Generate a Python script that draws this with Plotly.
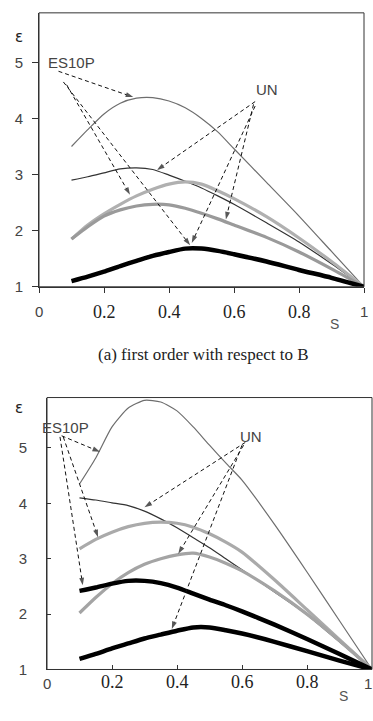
import plotly.graph_objects as go

# ---------------- data ----------------
s_vals = [0.1, 0.15, 0.2, 0.25, 0.3, 0.35, 0.4, 0.45, 0.5, 0.55, 0.6, 0.7, 0.8, 0.9, 1.0]

# (a) first order with respect to B
a_es10p_thin = [3.5, 3.8, 4.08, 4.27, 4.36, 4.37, 4.31, 4.19, 4.0, 3.76, 3.46, 2.86, 2.26, 1.63, 1.0]
a_un_thin    = [2.9, 2.96, 3.03, 3.1, 3.12, 3.09, 2.99, 2.88, 2.76, 2.62, 2.47, 2.14, 1.8, 1.41, 1.0]
a_es10p_gray = [1.85, 2.1, 2.3, 2.47, 2.62, 2.74, 2.83, 2.87, 2.83, 2.71, 2.57, 2.25, 1.87, 1.45, 1.0]
a_un_gray    = [1.85, 2.07, 2.26, 2.37, 2.44, 2.47, 2.46, 2.4, 2.31, 2.21, 2.1, 1.88, 1.62, 1.32, 1.0]
a_black      = [1.1, 1.18, 1.27, 1.37, 1.46, 1.55, 1.62, 1.68, 1.68, 1.64, 1.58, 1.45, 1.3, 1.16, 1.0]

# second chart
b_es10p_thin  = [4.35, 4.82, 5.38, 5.72, 5.86, 5.83, 5.67, 5.38, 5.05, 4.73, 4.42, 3.62, 2.76, 1.88, 1.0]
b_un_thin     = [4.1, 4.06, 4.01, 3.96, 3.86, 3.72, 3.56, 3.38, 3.2, 3.0, 2.8, 2.4, 1.99, 1.5, 1.0]
b_es10p_gray  = [3.18, 3.35, 3.48, 3.58, 3.64, 3.66, 3.64, 3.57, 3.45, 3.3, 3.12, 2.62, 2.08, 1.54, 1.0]
b_un_gray     = [2.02, 2.3, 2.55, 2.75, 2.9, 3.0, 3.07, 3.1, 3.03, 2.92, 2.78, 2.42, 2.0, 1.52, 1.0]
b_es10p_black = [2.42, 2.48, 2.55, 2.6, 2.6, 2.56, 2.48, 2.37, 2.26, 2.16, 2.05, 1.81, 1.55, 1.28, 1.0]
b_un_black    = [1.19, 1.28, 1.38, 1.47, 1.56, 1.63, 1.7, 1.76, 1.76, 1.71, 1.65, 1.5, 1.33, 1.16, 1.0]

x_ticks = [0, 0.2, 0.4, 0.6, 0.8, 1]
x_tick_labels = ["0", "0.2", "0.4", "0.6", "0.8", "1"]
y_ticks = [1, 2, 3, 4, 5]
y_tick_labels = ["1", "2", "3", "4", "5"]

# label anchors (data coords) and arrow (start -> end) pairs
a_labels = [("ES10P", 0.10, 5.0), ("UN", 0.70, 4.52)]
a_arrows = [((0.06, 4.84), (0.29, 4.38)),
            ((0.085, 4.6), (0.28, 2.64)),
            ((0.075, 4.65), (0.465, 1.74)),
            ((0.665, 4.3), (0.363, 3.08)),
            ((0.66, 4.25), (0.575, 2.2)),
            ((0.665, 4.22), (0.47, 1.78))]
b_labels = [("ES10P", 0.058, 5.37), ("UN", 0.628, 5.2)]
b_arrows = [((0.045, 5.22), (0.163, 4.93)),
            ((0.05, 5.2), (0.157, 3.39)),
            ((0.04, 5.2), (0.11, 2.52)),
            ((0.61, 5.1), (0.30, 3.93)),
            ((0.605, 5.05), (0.404, 3.09)),
            ((0.60, 5.05), (0.384, 1.73))]

caption = "(a) first order with respect to B"

# ---------------- figure ----------------
W, H = 373, 721
fig = go.Figure()

def px_x(p):
    return p / W

def px_y(p):
    return 1 - p / H

styles = [("#6e6e6e", 1.2), ("#333333", 1.2), ("#b0b0b0", 3.2), ("#9a9a9a", 3.2), ("#000000", 4.5)]
top_series = [a_es10p_thin, a_un_thin, a_es10p_gray, a_un_gray, a_black]
for ys, (c, w) in zip(top_series, styles):
    fig.add_trace(go.Scatter(x=s_vals, y=ys, mode="lines", line=dict(color=c, width=w, shape="spline", smoothing=0.6),
                             xaxis="x", yaxis="y", showlegend=False, hoverinfo="skip"))

styles_b = [("#6e6e6e", 1.2), ("#333333", 1.2), ("#aaaaaa", 3.2), ("#a4a4a4", 3.2), ("#000000", 4.5), ("#000000", 4.5)]
bot_series = [b_es10p_thin, b_un_thin, b_es10p_gray, b_un_gray, b_es10p_black, b_un_black]
for ys, (c, w) in zip(bot_series, styles_b):
    fig.add_trace(go.Scatter(x=s_vals, y=ys, mode="lines", line=dict(color=c, width=w, shape="spline", smoothing=0.6),
                             xaxis="x2", yaxis="y2", showlegend=False, hoverinfo="skip"))

def add_arrows(arrows, xa, ya):
    for (x0, y0), (x1, y1) in arrows:
        fig.add_trace(go.Scatter(x=[x0, x1], y=[y0, y1], mode="lines+markers",
                                 line=dict(color="#111111", width=1, dash="4px,3px"),
                                 marker=dict(symbol=["circle", "arrow"], size=[0, 8], angleref="previous",
                                             color="#111111", line=dict(width=0)),
                                 xaxis=xa, yaxis=ya, showlegend=False, hoverinfo="skip", cliponaxis=False))

add_arrows(a_arrows, "x", "y")
add_arrows(b_arrows, "x2", "y2")

annotations = []
for txt, x, y in a_labels:
    annotations.append(dict(text=txt, x=x, y=y, xref="x", yref="y", showarrow=False,
                            font=dict(family="Liberation Sans", size=15, color="#444444")))
for txt, x, y in b_labels:
    annotations.append(dict(text=txt, x=x, y=y, xref="x2", yref="y2", showarrow=False,
                            font=dict(family="Liberation Sans", size=15, color="#444444")))

# x tick labels: sans for the end values, serif for the decimals (as in the reference)
for xa, label_y in [("x", 315), ("x2", 702)]:
    for v, t in zip(x_ticks, x_tick_labels):
        sans = t in ("0", "1")
        xs = 0
        if xa == "x2" and v == 1:
            xs = -4
        annotations.append(dict(text=t, x=v, xshift=xs, y=px_y(label_y), xref=xa, yref="paper", showarrow=False,
                                font=dict(family="Liberation Sans" if sans else "Liberation Serif",
                                          size=15 if sans else 18,
                                          color="#444444" if sans else "#222222")))

# axis titles (epsilon and S) and caption
for (ex, ey) in [(13, 26), (13, 413)]:
    annotations.append(dict(text="ε", x=px_x(ex), y=px_y(ey), xref="paper", yref="paper", showarrow=False,
                            font=dict(family="DejaVu Sans", size=15, color="#222222")))
for (sx, sy) in [(341, 328), (350, 714)]:
    annotations.append(dict(text="S", x=px_x(sx), y=px_y(sy), xref="paper", yref="paper", showarrow=False,
                            font=dict(family="Liberation Sans", size=14, color="#555555")))
annotations.append(dict(text=caption, x=px_x(203), y=px_y(358), xref="paper", yref="paper", showarrow=False,
                        font=dict(family="Liberation Serif", size=17, color="#222222")))

# plot frames
shapes = []
for xa, ya in [("x", "y"), ("x2", "y2")]:
    shapes.append(dict(type="rect", xref=xa + " domain", yref=ya + " domain", x0=0, x1=1, y0=0, y1=1,
                       line=dict(color="#333333", width=1), fillcolor="rgba(0,0,0,0)", layer="above"))

common_x = dict(range=[0, 1], tickvals=x_ticks, showticklabels=False, showgrid=False, zeroline=False,
                showline=True, linecolor="#333333", linewidth=1, tickcolor="#333333", fixedrange=True)
common_y = dict(tickvals=y_ticks, ticktext=y_tick_labels, showgrid=False, zeroline=False,
                showline=True, linecolor="#333333", linewidth=1, tickcolor="#333333",
                tickfont=dict(family="Liberation Sans", size=15, color="#444444"), fixedrange=True)

fig.update_layout(
    width=W, height=H, autosize=False,
    margin=dict(l=0, r=0, t=0, b=0),
    paper_bgcolor="white", plot_bgcolor="white",
    showlegend=False,
    xaxis=dict(common_x, domain=[px_x(39), px_x(364)], anchor="y", ticks="outside", ticklen=5),
    yaxis=dict(common_y, domain=[px_y(290), px_y(13)], range=[1, 1 + (290 - 13) / 56.75], anchor="x",
               ticks="outside", ticklen=6, ticklabelstandoff=6),
    xaxis2=dict(common_x, domain=[px_x(47), px_x(372)], anchor="y2", ticks="inside", ticklen=4),
    yaxis2=dict(common_y, domain=[px_y(677), px_y(402)], range=[1, 1 + (677 - 402) / 56.0], anchor="x2",
                ticks="inside", ticklen=4, ticklabelstandoff=16),
    annotations=annotations,
    shapes=shapes,
)

fig.write_html("out.html", config={"displayModeBar": False},
               post_script="document.body.style.margin='0';document.body.style.padding='0';"
                           "document.body.style.overflow='hidden';")
